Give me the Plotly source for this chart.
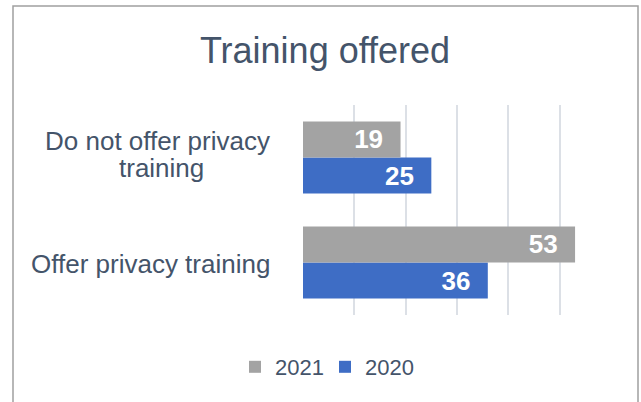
import plotly.graph_objects as go

categories = ["Do not offer privacy training", "Offer privacy training"]
values_2021 = [19, 53]
values_2020 = [25, 36]
series_names = ["2021", "2020"]
title_text = "Training offered"

W, H = 641, 402
L, R, T, B = 303, 30, 105, 87
PW, PH = W - L - R, H - T - B

def px_x(x):
    return (x - L) / PW

def px_y(y):
    return (H - B - y) / PH

TEXT_COLOR = "#44546A"
FONT = "Arial, Liberation Sans, sans-serif"

fig = go.Figure()
fig.add_trace(go.Bar(
    y=categories, x=values_2020, name=series_names[1], orientation="h",
    marker=dict(color="#3E6DC5", line=dict(width=0)),
    texttemplate="<b>%{x}</b>\u00a0\u00a0", textposition="inside",
    insidetextanchor="end", constraintext="none",
    textfont=dict(color="white", size=26, family=FONT),
))
fig.add_trace(go.Bar(
    y=categories, x=values_2021, name=series_names[0], orientation="h",
    marker=dict(color="#A3A3A3", line=dict(width=0)),
    texttemplate="<b>%{x}</b>\u00a0\u00a0", textposition="inside",
    insidetextanchor="end", constraintext="none",
    textfont=dict(color="white", size=26, family=FONT),
))

fig.update_layout(
    width=W, height=H,
    margin=dict(l=L, r=R, t=T, b=B),
    paper_bgcolor="white", plot_bgcolor="white",
    barmode="group", bargap=0.314, bargroupgap=0,
    font=dict(family=FONT, color=TEXT_COLOR),
    title=dict(text=title_text, font=dict(size=36, color=TEXT_COLOR, family=FONT),
               x=325 / W, xref="container", xanchor="center",
               y=1 - 50 / H, yref="container", yanchor="middle"),
    xaxis=dict(range=[0, 60], tickvals=[10, 20, 30, 40, 50, 60], showticklabels=False,
               showgrid=True, gridcolor="#DCE0E6", gridwidth=1.5, zeroline=False,
               showline=False, ticks=""),
    yaxis=dict(categoryorder="array", categoryarray=categories[::-1],
               showticklabels=False, showgrid=False, zeroline=False, showline=False, ticks=""),
    legend=dict(orientation="h", traceorder="reversed", entrywidth=45,
                xref="container", x=325 / W, xanchor="center",
                yref="container", y=1 - 367 / H, yanchor="middle",
                font=dict(size=22, color=TEXT_COLOR, family=FONT)),
    showlegend=True,
)

annotations = [
    dict(text="Do not offer privacy", xref="paper", x=px_x(272), xanchor="right",
         yref="y", y=categories[0], yanchor="middle", yshift=16.5, showarrow=False),
    dict(text="training", xref="paper", x=px_x(161), xanchor="center",
         yref="y", y=categories[0], yanchor="middle", yshift=-10, showarrow=False),
    dict(text="Offer privacy training", xref="paper", x=px_x(272), xanchor="right",
         yref="y", y=categories[1], yanchor="middle", yshift=-1, showarrow=False),
]
for a in annotations:
    a["font"] = dict(size=26, color=TEXT_COLOR, family=FONT)
fig.update_layout(annotations=annotations)

fig.add_shape(type="rect", xref="paper", yref="paper",
              x0=px_x(13), x1=px_x(638), y0=px_y(6), y1=px_y(420),
              line=dict(color="#A0A0A0", width=1.5), fillcolor="rgba(0,0,0,0)", layer="above")

fig.write_html("out.html", config={"displayModeBar": False},
               post_script="document.body.style.margin='0';document.body.style.padding='0';")
